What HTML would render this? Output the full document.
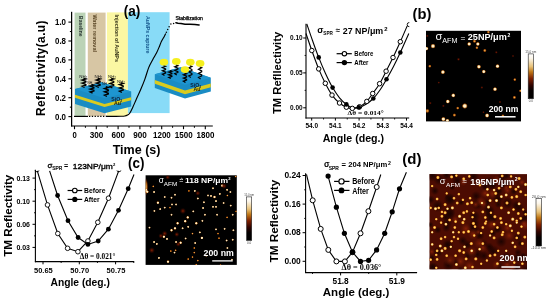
<!DOCTYPE html>
<html><head><meta charset="utf-8"><style>
html,body{margin:0;padding:0;background:#fff;width:550px;height:304px;overflow:hidden}
svg{display:block;will-change:transform;filter:blur(0.4px)}
</style></head><body>
<svg width="550" height="304" viewBox="0 0 550 304">
<defs>
<radialGradient id="dw"><stop offset="0" stop-color="#fffbea"/><stop offset="0.45" stop-color="#ffe4b0"/><stop offset="0.8" stop-color="#c86a10" stop-opacity="0.55"/><stop offset="1" stop-color="#802000" stop-opacity="0"/></radialGradient>
<radialGradient id="dm"><stop offset="0" stop-color="#fff0d8"/><stop offset="0.5" stop-color="#ecc48a" stop-opacity="0.9"/><stop offset="1" stop-color="#804000" stop-opacity="0"/></radialGradient>
<radialGradient id="do"><stop offset="0" stop-color="#ffc060"/><stop offset="0.5" stop-color="#d07010" stop-opacity="0.8"/><stop offset="1" stop-color="#801800" stop-opacity="0"/></radialGradient>
<radialGradient id="dr2"><stop offset="0" stop-color="#8e2408" stop-opacity="0.85"/><stop offset="1" stop-color="#6a1a04" stop-opacity="0"/></radialGradient>
<radialGradient id="dr"><stop offset="0" stop-color="#8a1e00"/><stop offset="1" stop-color="#400800" stop-opacity="0"/></radialGradient>
<radialGradient id="dk"><stop offset="0" stop-color="#1a0200" stop-opacity="0.95"/><stop offset="0.5" stop-color="#240400" stop-opacity="0.6"/><stop offset="1" stop-color="#2a0500" stop-opacity="0"/></radialGradient>
<radialGradient id="dy2"><stop offset="0" stop-color="#fff6d0"/><stop offset="0.45" stop-color="#f8d070"/><stop offset="0.8" stop-color="#c06010" stop-opacity="0.5"/><stop offset="1" stop-color="#902000" stop-opacity="0"/></radialGradient>
<radialGradient id="dy"><stop offset="0" stop-color="#ffe488"/><stop offset="0.5" stop-color="#f0aa34"/><stop offset="0.8" stop-color="#b04a0c" stop-opacity="0.5"/><stop offset="1" stop-color="#902000" stop-opacity="0"/></radialGradient>
<linearGradient id="cb1" x1="0" y1="0" x2="0" y2="1"><stop offset="0" stop-color="#ffffff"/><stop offset="0.1" stop-color="#fcf6ea"/><stop offset="0.28" stop-color="#e8c27a"/><stop offset="0.4" stop-color="#c07818"/><stop offset="0.55" stop-color="#7e2000"/><stop offset="0.7" stop-color="#300400"/><stop offset="0.82" stop-color="#050000"/><stop offset="1" stop-color="#000"/></linearGradient>
<clipPath id="cpc"><rect x="30" y="170.6" width="110" height="95"/></clipPath>
<clipPath id="cpb"><rect x="300" y="20" width="109.3" height="100"/></clipPath>
<clipPath id="clb"><rect x="426" y="30.8" width="95" height="90.6"/></clipPath>
<clipPath id="clc"><rect x="145.6" y="175.3" width="91.2" height="89.6"/></clipPath>
<clipPath id="cld"><rect x="429.5" y="174.1" width="97.5" height="95.2"/></clipPath>
</defs>
<rect x="74.6" y="12.6" width="10.9" height="103.6" fill="#bbd3b6"/>
<rect x="87.8" y="12.6" width="17.8" height="103.6" fill="#d7c6a4"/>
<rect x="106.9" y="12.4" width="21.0" height="103.8" fill="#fbf7a3"/>
<rect x="127.9" y="12.2" width="41.7" height="100.9" fill="#88dbf7"/>
<text transform="translate(78.58,16.1) rotate(90)" font-size="5.6" font-weight="bold" fill="#26332f" style='font-family:"Liberation Sans",sans-serif' textLength="20.3" lengthAdjust="spacingAndGlyphs">Baseline</text>
<text transform="translate(92.76,14.4) rotate(90)" font-size="5.4" font-weight="bold" fill="#5b4727" style='font-family:"Liberation Sans",sans-serif' textLength="37.6" lengthAdjust="spacingAndGlyphs">Water removal</text>
<text transform="translate(114.66,14.4) rotate(90)" font-size="5.4" font-weight="bold" fill="#3c3a1c" style='font-family:"Liberation Sans",sans-serif' textLength="47.5" lengthAdjust="spacingAndGlyphs">Injection of AuNPs</text>
<text transform="translate(145.91,16.0) rotate(90)" font-size="5.8" font-weight="bold" fill="#17598f" style='font-family:"Liberation Sans",sans-serif' textLength="37.4" lengthAdjust="spacingAndGlyphs">AuNPs capture</text>
<polygon points="75.00,89.00 101.70,82.20 131.20,91.40 131.20,106.40 104.50,113.20 75.00,104.00" fill="#1a8cc4"/><polygon points="75.00,89.00 101.70,82.20 131.20,91.40 104.50,98.20" fill="#1e95d0"/><polygon points="75.00,94.85 104.50,104.05 131.20,97.25 131.20,100.18 104.50,106.97 75.00,97.78" fill="#dacb1e"/>
<polygon points="154.80,74.30 180.60,67.30 210.80,77.80 210.80,91.40 185.00,98.40 154.80,87.90" fill="#1a8cc4"/><polygon points="154.80,74.30 180.60,67.30 210.80,77.80 185.00,84.80" fill="#1e95d0"/><polygon points="154.80,80.01 185.00,90.51 210.80,83.51 210.80,87.32 185.00,94.32 154.80,83.82" fill="#dacb1e"/>
<polyline points="83.43,78.20 85.90,78.98 82.10,80.06 85.90,81.30 85.90,82.08 82.10,83.16 85.90,84.40 85.90,85.17 82.10,86.26 84.57,87.50" fill="none" stroke="#000" stroke-width="1.35" stroke-linejoin="miter"/>
<polyline points="91.43,84.40 93.90,85.13 90.10,86.16 93.90,87.33 93.90,88.07 90.10,89.09 93.90,90.27 93.90,91.00 90.10,92.03 92.57,93.20" fill="none" stroke="#000" stroke-width="1.35" stroke-linejoin="miter"/>
<polyline points="97.63,78.20 100.10,78.98 96.30,80.06 100.10,81.30 100.10,82.08 96.30,83.16 100.10,84.40 100.10,85.17 96.30,86.26 98.77,87.50" fill="none" stroke="#000" stroke-width="1.35" stroke-linejoin="miter"/>
<polyline points="105.83,86.70 108.30,87.51 104.50,88.64 108.30,89.93 108.30,90.74 104.50,91.87 108.30,93.17 108.30,93.98 104.50,95.11 106.97,96.40" fill="none" stroke="#000" stroke-width="1.35" stroke-linejoin="miter"/>
<polyline points="111.23,78.20 113.70,79.02 109.90,80.16 113.70,81.47 113.70,82.28 109.90,83.43 113.70,84.73 113.70,85.55 109.90,86.69 112.37,88.00" fill="none" stroke="#000" stroke-width="1.35" stroke-linejoin="miter"/>
<polyline points="120.73,82.70 123.20,83.52 119.40,84.66 123.20,85.97 123.20,86.78 119.40,87.93 123.20,89.23 123.20,90.05 119.40,91.19 121.87,92.50" fill="none" stroke="#000" stroke-width="1.35" stroke-linejoin="miter"/>
<text x="79.3" y="77.6" font-size="4.4" fill="#1a1a1a" style='font-family:"Liberation Sans",sans-serif'>NH<tspan font-size="2.73" dy="1">2</tspan></text>
<text x="94.5" y="77.6" font-size="4.4" fill="#1a1a1a" style='font-family:"Liberation Sans",sans-serif'>NH<tspan font-size="2.73" dy="1">2</tspan></text>
<text x="108.1" y="77.6" font-size="4.4" fill="#1a1a1a" style='font-family:"Liberation Sans",sans-serif'>NH<tspan font-size="2.73" dy="1">2</tspan></text>
<text x="117.1" y="82.7" font-size="4.4" fill="#1a1a1a" style='font-family:"Liberation Sans",sans-serif'>NH<tspan font-size="2.73" dy="1">2</tspan></text>
<text x="87.2" y="84.0" font-size="3.6" fill="#1a1a1a" style='font-family:"Liberation Sans",sans-serif'>NH<tspan font-size="2.23" dy="1"></tspan></text>
<text x="101.9" y="84.9" font-size="3.6" fill="#1a1a1a" style='font-family:"Liberation Sans",sans-serif'>NH<tspan font-size="2.23" dy="1"></tspan></text>
<text x="111.3" y="100.9" font-size="5.2" font-weight="bold" fill="#0b1e38" style='font-family:"Liberation Sans",sans-serif'>SiO<tspan font-size="3.4" dy="0.9">2</tspan></text>
<text x="113.9" y="105.3" font-size="5.2" font-weight="bold" fill="#2b2200" style='font-family:"Liberation Sans",sans-serif'>Au</text>
<text x="190.3" y="87.1" font-size="5.2" font-weight="bold" fill="#0b1e38" style='font-family:"Liberation Sans",sans-serif'>SiO<tspan font-size="3.4" dy="0.9">2</tspan></text>
<text x="193.6" y="91.0" font-size="5.2" font-weight="bold" fill="#2b2200" style='font-family:"Liberation Sans",sans-serif'>Au</text>
<polyline points="163.52,65.50 165.60,66.33 162.40,67.50 165.60,68.83 165.60,69.67 162.40,70.83 165.60,72.17 165.60,73.00 162.40,74.17 164.48,75.50" fill="none" stroke="#000" stroke-width="1.2" stroke-linejoin="miter"/>
<polyline points="175.82,64.80 177.90,65.65 174.70,66.84 177.90,68.20 177.90,69.05 174.70,70.24 177.90,71.60 177.90,72.45 174.70,73.64 176.78,75.00" fill="none" stroke="#000" stroke-width="1.2" stroke-linejoin="miter"/>
<polyline points="189.82,65.50 191.90,66.50 188.70,67.90 191.90,69.50 191.90,70.50 188.70,71.90 191.90,73.50 191.90,74.50 188.70,75.90 190.78,77.50" fill="none" stroke="#000" stroke-width="1.2" stroke-linejoin="miter"/>
<polyline points="199.62,66.80 201.70,67.82 198.50,69.24 201.70,70.87 201.70,71.88 198.50,73.31 201.70,74.93 201.70,75.95 198.50,77.37 200.58,79.00" fill="none" stroke="#000" stroke-width="1.2" stroke-linejoin="miter"/>
<polyline points="184.52,73.00 186.60,73.79 183.40,74.90 186.60,76.17 186.60,76.96 183.40,78.07 186.60,79.33 186.60,80.13 183.40,81.23 185.48,82.50" fill="none" stroke="#000" stroke-width="1.2" stroke-linejoin="miter"/>
<polyline points="169.82,70.50 171.90,71.17 168.70,72.10 171.90,73.17 171.90,73.83 168.70,74.77 171.90,75.83 171.90,76.50 168.70,77.43 170.78,78.50" fill="none" stroke="#000" stroke-width="1.2" stroke-linejoin="miter"/>
<ellipse cx="163.9" cy="62.2" rx="4.3" ry="3.4" fill="#f5ef1e"/>
<ellipse cx="176.3" cy="61.4" rx="4.3" ry="3.4" fill="#f5ef1e"/>
<ellipse cx="190.3" cy="62.2" rx="4.3" ry="3.4" fill="#f5ef1e"/>
<ellipse cx="200.1" cy="63.4" rx="4.3" ry="3.4" fill="#f5ef1e"/>
<ellipse cx="185" cy="69.6" rx="4.3" ry="3.4" fill="#f5ef1e"/>
<line x1="74" y1="116.4" x2="88" y2="116.4" stroke="#000" stroke-width="1.2"/>
<line x1="89" y1="116.4" x2="106.5" y2="116.4" stroke="#000" stroke-width="1.3" stroke-dasharray="1.3,1.5"/>
<path d="M106.00,116.40 C107.67,116.40 113.50,116.42 116.00,116.40 C118.50,116.38 119.53,116.37 121.00,116.30 C122.47,116.23 123.72,116.22 124.80,116.00 C125.88,115.78 126.68,115.45 127.50,115.00 C128.32,114.55 128.83,114.57 129.70,113.30 C130.57,112.03 131.60,109.73 132.70,107.40 C133.80,105.07 134.95,102.32 136.30,99.30 C137.65,96.28 139.38,92.62 140.80,89.30 C142.22,85.98 143.48,83.02 144.80,79.40 C146.12,75.78 147.38,70.88 148.70,67.60 C150.02,64.32 151.38,62.17 152.70,59.70 C154.02,57.23 155.45,55.10 156.60,52.80 C157.75,50.50 158.78,47.82 159.60,45.90 C160.42,43.98 160.70,42.92 161.50,41.30 C162.30,39.68 163.68,37.52 164.40,36.20 C165.12,34.88 165.57,33.87 165.80,33.40" fill="none" stroke="#000" stroke-width="1.15"/>
<circle cx="166.4" cy="32.3" r="0.75" fill="#000"/>
<circle cx="167.7" cy="29.5" r="0.75" fill="#000"/>
<circle cx="169.1" cy="26.8" r="0.75" fill="#000"/>
<circle cx="170.9" cy="24.1" r="0.75" fill="#000"/>
<circle cx="173.6" cy="23.5" r="0.75" fill="#000"/>
<polyline points="175.90,22.70 178.00,23.20 181.00,23.60 185.00,24.20 190.00,24.30 195.00,24.50 199.10,25.00" fill="none" stroke="#000" stroke-width="1.5" stroke-linecap="round"/>
<text x="175.4" y="20.3" font-size="4.6" font-weight="normal" text-anchor="start" fill="#000" style='font-family:"Liberation Sans",sans-serif' textLength="27.4" lengthAdjust="spacingAndGlyphs" stroke="#000" stroke-width="0.25">Stabilization</text>
<line x1="71.6" y1="11.8" x2="71.6" y2="126.6" stroke="#000" stroke-width="1.25"/>
<line x1="71.3" y1="126" x2="212.8" y2="126" stroke="#000" stroke-width="1.2"/>
<line x1="68.4" y1="22.1" x2="71.6" y2="22.1" stroke="#000" stroke-width="1.1"/>
<text x="66.0" y="25.200000000000003" font-size="8.6" font-weight="bold" text-anchor="end" fill="#000" style='font-family:"Liberation Sans",sans-serif' textLength="11.0" lengthAdjust="spacingAndGlyphs" >1.0</text>
<line x1="68.4" y1="41.0" x2="71.6" y2="41.0" stroke="#000" stroke-width="1.1"/>
<text x="66.0" y="44.1" font-size="8.6" font-weight="bold" text-anchor="end" fill="#000" style='font-family:"Liberation Sans",sans-serif' textLength="11.0" lengthAdjust="spacingAndGlyphs" >0.8</text>
<line x1="68.4" y1="59.9" x2="71.6" y2="59.9" stroke="#000" stroke-width="1.1"/>
<text x="66.0" y="63.0" font-size="8.6" font-weight="bold" text-anchor="end" fill="#000" style='font-family:"Liberation Sans",sans-serif' textLength="11.0" lengthAdjust="spacingAndGlyphs" >0.6</text>
<line x1="68.4" y1="78.8" x2="71.6" y2="78.8" stroke="#000" stroke-width="1.1"/>
<text x="66.0" y="81.89999999999999" font-size="8.6" font-weight="bold" text-anchor="end" fill="#000" style='font-family:"Liberation Sans",sans-serif' textLength="11.0" lengthAdjust="spacingAndGlyphs" >0.4</text>
<line x1="68.4" y1="97.7" x2="71.6" y2="97.7" stroke="#000" stroke-width="1.1"/>
<text x="66.0" y="100.8" font-size="8.6" font-weight="bold" text-anchor="end" fill="#000" style='font-family:"Liberation Sans",sans-serif' textLength="11.0" lengthAdjust="spacingAndGlyphs" >0.2</text>
<line x1="68.4" y1="116.6" x2="71.6" y2="116.6" stroke="#000" stroke-width="1.1"/>
<text x="66.0" y="119.69999999999999" font-size="8.6" font-weight="bold" text-anchor="end" fill="#000" style='font-family:"Liberation Sans",sans-serif' textLength="11.0" lengthAdjust="spacingAndGlyphs" >0.0</text>
<line x1="69.9" y1="31.55" x2="71.6" y2="31.55" stroke="#000" stroke-width="1.0"/>
<line x1="69.9" y1="50.45" x2="71.6" y2="50.45" stroke="#000" stroke-width="1.0"/>
<line x1="69.9" y1="69.35" x2="71.6" y2="69.35" stroke="#000" stroke-width="1.0"/>
<line x1="69.9" y1="88.25" x2="71.6" y2="88.25" stroke="#000" stroke-width="1.0"/>
<line x1="69.9" y1="107.15" x2="71.6" y2="107.15" stroke="#000" stroke-width="1.0"/>
<line x1="74.5" y1="126" x2="74.5" y2="129.2" stroke="#000" stroke-width="1.1"/>
<text x="74.7" y="138.2" font-size="8.4" font-weight="bold" text-anchor="middle" fill="#000" style='font-family:"Liberation Sans",sans-serif' textLength="4.3" lengthAdjust="spacingAndGlyphs" >0</text>
<line x1="96.3" y1="126" x2="96.3" y2="129.2" stroke="#000" stroke-width="1.1"/>
<text x="96.5" y="138.2" font-size="8.4" font-weight="bold" text-anchor="middle" fill="#000" style='font-family:"Liberation Sans",sans-serif' textLength="13.6" lengthAdjust="spacingAndGlyphs" >300</text>
<line x1="118.1" y1="126" x2="118.1" y2="129.2" stroke="#000" stroke-width="1.1"/>
<text x="118.3" y="138.2" font-size="8.4" font-weight="bold" text-anchor="middle" fill="#000" style='font-family:"Liberation Sans",sans-serif' textLength="13.6" lengthAdjust="spacingAndGlyphs" >600</text>
<line x1="139.9" y1="126" x2="139.9" y2="129.2" stroke="#000" stroke-width="1.1"/>
<text x="140.1" y="138.2" font-size="8.4" font-weight="bold" text-anchor="middle" fill="#000" style='font-family:"Liberation Sans",sans-serif' textLength="13.6" lengthAdjust="spacingAndGlyphs" >900</text>
<line x1="161.7" y1="126" x2="161.7" y2="129.2" stroke="#000" stroke-width="1.1"/>
<text x="161.89999999999998" y="138.2" font-size="8.4" font-weight="bold" text-anchor="middle" fill="#000" style='font-family:"Liberation Sans",sans-serif' textLength="17.8" lengthAdjust="spacingAndGlyphs" >1200</text>
<line x1="183.5" y1="126" x2="183.5" y2="129.2" stroke="#000" stroke-width="1.1"/>
<text x="183.7" y="138.2" font-size="8.4" font-weight="bold" text-anchor="middle" fill="#000" style='font-family:"Liberation Sans",sans-serif' textLength="17.8" lengthAdjust="spacingAndGlyphs" >1500</text>
<line x1="205.3" y1="126" x2="205.3" y2="129.2" stroke="#000" stroke-width="1.1"/>
<text x="205.5" y="138.2" font-size="8.4" font-weight="bold" text-anchor="middle" fill="#000" style='font-family:"Liberation Sans",sans-serif' textLength="17.8" lengthAdjust="spacingAndGlyphs" >1800</text>
<line x1="85.4" y1="126" x2="85.4" y2="127.8" stroke="#000" stroke-width="1.0"/>
<line x1="107.2" y1="126" x2="107.2" y2="127.8" stroke="#000" stroke-width="1.0"/>
<line x1="129" y1="126" x2="129" y2="127.8" stroke="#000" stroke-width="1.0"/>
<line x1="150.8" y1="126" x2="150.8" y2="127.8" stroke="#000" stroke-width="1.0"/>
<line x1="172.6" y1="126" x2="172.6" y2="127.8" stroke="#000" stroke-width="1.0"/>
<line x1="194.4" y1="126" x2="194.4" y2="127.8" stroke="#000" stroke-width="1.0"/>
<text transform="translate(44.7,68.25) rotate(-90)" font-size="11.9" font-weight="bold" text-anchor="middle" fill="#000" style='font-family:"Liberation Sans",sans-serif' textLength="95.6" lengthAdjust="spacing">Reflectivity(a.u)</text>
<text x="112.7" y="153.6" font-size="12.7" font-weight="bold" text-anchor="start" fill="#000" style='font-family:"Liberation Sans",sans-serif' textLength="47.8" lengthAdjust="spacingAndGlyphs" >Time (s)</text>
<text x="123.7" y="15.6" font-size="15" font-weight="bold" text-anchor="start" fill="#000" style='font-family:"Liberation Sans",sans-serif' textLength="16.6" lengthAdjust="spacingAndGlyphs" >(a)</text>
<line x1="306" y1="23.8" x2="306" y2="118.6" stroke="#000" stroke-width="1.1"/>
<line x1="305.5" y1="118" x2="409.2" y2="118" stroke="#000" stroke-width="1.1"/>
<line x1="303.2" y1="38.0" x2="306" y2="38.0" stroke="#000" stroke-width="1.0"/>
<text x="302.6" y="40.4" font-size="6.8" font-weight="bold" text-anchor="end" fill="#000" style='font-family:"Liberation Sans",sans-serif' textLength="12.6" lengthAdjust="spacingAndGlyphs" >0.10</text>
<line x1="303.2" y1="72.9" x2="306" y2="72.9" stroke="#000" stroke-width="1.0"/>
<text x="302.6" y="75.30000000000001" font-size="6.8" font-weight="bold" text-anchor="end" fill="#000" style='font-family:"Liberation Sans",sans-serif' textLength="12.6" lengthAdjust="spacingAndGlyphs" >0.05</text>
<line x1="303.2" y1="107.8" x2="306" y2="107.8" stroke="#000" stroke-width="1.0"/>
<text x="302.6" y="110.2" font-size="6.8" font-weight="bold" text-anchor="end" fill="#000" style='font-family:"Liberation Sans",sans-serif' textLength="12.6" lengthAdjust="spacingAndGlyphs" >0.00</text>
<line x1="304.6" y1="55.45" x2="306" y2="55.45" stroke="#000" stroke-width="0.9"/>
<line x1="304.6" y1="90.35" x2="306" y2="90.35" stroke="#000" stroke-width="0.9"/>
<line x1="311.7" y1="118" x2="311.7" y2="120.6" stroke="#000" stroke-width="1.0"/>
<text x="311.7" y="128.1" font-size="6.8" font-weight="bold" text-anchor="middle" fill="#000" style='font-family:"Liberation Sans",sans-serif' textLength="12.6" lengthAdjust="spacingAndGlyphs" >54.0</text>
<line x1="323.55" y1="118" x2="323.55" y2="119.5" stroke="#000" stroke-width="0.9"/>
<line x1="335.4" y1="118" x2="335.4" y2="120.6" stroke="#000" stroke-width="1.0"/>
<text x="335.4" y="128.1" font-size="6.8" font-weight="bold" text-anchor="middle" fill="#000" style='font-family:"Liberation Sans",sans-serif' textLength="12.6" lengthAdjust="spacingAndGlyphs" >54.1</text>
<line x1="347.25" y1="118" x2="347.25" y2="119.5" stroke="#000" stroke-width="0.9"/>
<line x1="359.09999999999997" y1="118" x2="359.09999999999997" y2="120.6" stroke="#000" stroke-width="1.0"/>
<text x="359.09999999999997" y="128.1" font-size="6.8" font-weight="bold" text-anchor="middle" fill="#000" style='font-family:"Liberation Sans",sans-serif' textLength="12.6" lengthAdjust="spacingAndGlyphs" >54.2</text>
<line x1="370.95" y1="118" x2="370.95" y2="119.5" stroke="#000" stroke-width="0.9"/>
<line x1="382.79999999999995" y1="118" x2="382.79999999999995" y2="120.6" stroke="#000" stroke-width="1.0"/>
<text x="382.79999999999995" y="128.1" font-size="6.8" font-weight="bold" text-anchor="middle" fill="#000" style='font-family:"Liberation Sans",sans-serif' textLength="12.6" lengthAdjust="spacingAndGlyphs" >54.3</text>
<line x1="394.65" y1="118" x2="394.65" y2="119.5" stroke="#000" stroke-width="0.9"/>
<line x1="406.5" y1="118" x2="406.5" y2="120.6" stroke="#000" stroke-width="1.0"/>
<text x="406.5" y="128.1" font-size="6.8" font-weight="bold" text-anchor="middle" fill="#000" style='font-family:"Liberation Sans",sans-serif' textLength="12.6" lengthAdjust="spacingAndGlyphs" >54.4</text>
<text transform="translate(281.0,72.9) rotate(-90)" font-size="10.8" font-weight="bold" text-anchor="middle" fill="#000" style='font-family:"Liberation Sans",sans-serif' textLength="82.2" lengthAdjust="spacingAndGlyphs">TM Refllectivity</text>
<text x="322.7" y="141.5" font-size="10.6" font-weight="bold" text-anchor="start" fill="#000" style='font-family:"Liberation Sans",sans-serif' textLength="61.4" lengthAdjust="spacingAndGlyphs" >Angle (deg.)</text>
<text x="412.6" y="19.0" font-size="15" font-weight="bold" text-anchor="start" fill="#000" style='font-family:"Liberation Sans",sans-serif' textLength="18.8" lengthAdjust="spacingAndGlyphs" >(b)</text>
<path d="M306.00,33.50 C306.97,36.33 309.68,44.60 311.80,50.50 C313.92,56.40 316.45,63.43 318.70,68.90 C320.95,74.37 323.08,78.93 325.30,83.30 C327.52,87.67 329.63,91.82 332.00,95.10 C334.37,98.38 337.10,100.98 339.50,103.00 C341.90,105.02 344.27,106.30 346.40,107.20 C348.53,108.10 350.12,108.47 352.30,108.40 C354.48,108.33 357.08,107.97 359.50,106.80 C361.92,105.63 364.60,103.62 366.80,101.40 C369.00,99.18 370.57,96.45 372.70,93.50 C374.83,90.55 377.37,87.42 379.60,83.70 C381.83,79.98 383.87,75.57 386.10,71.20 C388.33,66.83 390.63,62.42 393.00,57.50 C395.37,52.58 397.93,46.97 400.30,41.70 C402.67,36.43 406.05,28.53 407.20,25.90" fill="none" stroke="#000" stroke-width="1.1"/>
<path d="M306.80,24.00 C307.75,26.75 310.52,34.93 312.50,40.50 C314.48,46.07 316.53,51.90 318.70,57.40 C320.87,62.90 323.18,68.47 325.50,73.50 C327.82,78.53 330.27,83.55 332.60,87.60 C334.93,91.65 337.20,95.00 339.50,97.80 C341.80,100.60 344.23,102.73 346.40,104.40 C348.57,106.07 350.43,107.30 352.50,107.80 C354.57,108.30 356.55,108.00 358.80,107.40 C361.05,106.80 363.58,105.68 366.00,104.20 C368.42,102.72 370.97,100.87 373.30,98.50 C375.63,96.13 377.80,93.20 380.00,90.00 C382.20,86.80 384.25,83.22 386.50,79.30 C388.75,75.38 391.20,70.97 393.50,66.50 C395.80,62.03 397.75,58.00 400.30,52.50 C402.85,47.00 407.38,36.67 408.80,33.50" fill="none" stroke="#000" stroke-width="1.1"/>
<circle cx="311.8" cy="50.5" r="2.25" fill="#fff" stroke="#000" stroke-width="1.0"/>
<circle cx="318.7" cy="68.9" r="2.25" fill="#fff" stroke="#000" stroke-width="1.0"/>
<circle cx="325.3" cy="83.3" r="2.25" fill="#fff" stroke="#000" stroke-width="1.0"/>
<circle cx="332" cy="95.1" r="2.25" fill="#fff" stroke="#000" stroke-width="1.0"/>
<circle cx="339.5" cy="103" r="2.25" fill="#fff" stroke="#000" stroke-width="1.0"/>
<circle cx="346.4" cy="107.2" r="2.25" fill="#fff" stroke="#000" stroke-width="1.0"/>
<circle cx="352.3" cy="108.4" r="2.25" fill="#fff" stroke="#000" stroke-width="1.0"/>
<circle cx="359.5" cy="106.8" r="2.25" fill="#fff" stroke="#000" stroke-width="1.0"/>
<circle cx="366.8" cy="101.4" r="2.25" fill="#fff" stroke="#000" stroke-width="1.0"/>
<circle cx="372.7" cy="93.5" r="2.25" fill="#fff" stroke="#000" stroke-width="1.0"/>
<circle cx="379.6" cy="83.7" r="2.25" fill="#fff" stroke="#000" stroke-width="1.0"/>
<circle cx="386.1" cy="71.2" r="2.25" fill="#fff" stroke="#000" stroke-width="1.0"/>
<circle cx="393" cy="57.5" r="2.25" fill="#fff" stroke="#000" stroke-width="1.0"/>
<circle cx="400.3" cy="41.7" r="2.25" fill="#fff" stroke="#000" stroke-width="1.0"/>
<g clip-path="url(#cpb)"><circle cx="409.3" cy="24.6" r="2.1" fill="none" stroke="#000" stroke-width="0.9"/></g>
<circle cx="318.7" cy="57.4" r="2.3" fill="#000"/>
<circle cx="332.6" cy="87.6" r="2.3" fill="#000"/>
<circle cx="346.4" cy="104.4" r="2.3" fill="#000"/>
<circle cx="358.8" cy="107.4" r="2.3" fill="#000"/>
<circle cx="373.3" cy="98.5" r="2.3" fill="#000"/>
<circle cx="386.5" cy="79.3" r="2.3" fill="#000"/>
<circle cx="400.3" cy="52.5" r="2.3" fill="#000"/>
<line x1="336.6" y1="53.7" x2="351.8" y2="53.7" stroke="#000" stroke-width="1.2"/>
<circle cx="344.4" cy="53.7" r="2.2" fill="#fff" stroke="#000" stroke-width="1.1"/>
<line x1="336.6" y1="62.6" x2="351.8" y2="62.6" stroke="#000" stroke-width="1.2"/>
<circle cx="344.4" cy="62.6" r="2.7" fill="#000"/>
<text x="354.3" y="56.3" font-size="7.2" font-weight="bold" text-anchor="start" fill="#000" style='font-family:"Liberation Sans",sans-serif' textLength="19.0" lengthAdjust="spacingAndGlyphs" >Before</text>
<text x="354.3" y="64.8" font-size="7.2" font-weight="bold" text-anchor="start" fill="#000" style='font-family:"Liberation Sans",sans-serif' textLength="14.2" lengthAdjust="spacingAndGlyphs" >After</text>
<text x="317.3" y="33.4" font-size="9.0" font-weight="bold" style='font-family:"Liberation Sans",sans-serif'>σ</text>
<text x="323.3" y="35.2" font-size="5.4" font-weight="bold" text-anchor="start" fill="#000" style='font-family:"Liberation Sans",sans-serif' textLength="9.6" lengthAdjust="spacingAndGlyphs" >SPR</text>
<text x="335.8" y="33.4" font-size="8.0" font-weight="bold" text-anchor="start" fill="#000" style='font-family:"Liberation Sans",sans-serif' textLength="4.2" lengthAdjust="spacingAndGlyphs" >≈</text>
<text x="342.8" y="33.6" font-size="8.8" font-weight="bold" text-anchor="start" fill="#000" style='font-family:"Liberation Sans",sans-serif' textLength="40.4" lengthAdjust="spacingAndGlyphs" >27 NP/μm</text>
<text x="384.3" y="30.5" font-size="5.4" font-weight="bold" text-anchor="start" fill="#000" style='font-family:"Liberation Sans",sans-serif' textLength="3.3" lengthAdjust="spacingAndGlyphs" >2</text>
<text x="347.6" y="115.4" font-size="7.0" font-weight="bold" text-anchor="start" fill="#000" style='font-family:"Liberation Serif",serif' textLength="36.2" lengthAdjust="spacingAndGlyphs" >Δθ = 0.014°</text>
<line x1="35.4" y1="169.7" x2="35.4" y2="262.2" stroke="#000" stroke-width="1.1"/>
<line x1="34.9" y1="261.6" x2="134.2" y2="261.6" stroke="#000" stroke-width="1.1"/>
<line x1="32.5" y1="178.1" x2="35.4" y2="178.1" stroke="#000" stroke-width="1.0"/>
<text x="30.0" y="180.7" font-size="7.3" font-weight="bold" text-anchor="end" fill="#000" style='font-family:"Liberation Sans",sans-serif' textLength="13.6" lengthAdjust="spacingAndGlyphs" >0.13</text>
<line x1="32.5" y1="201.2" x2="35.4" y2="201.2" stroke="#000" stroke-width="1.0"/>
<text x="30.0" y="203.79999999999998" font-size="7.3" font-weight="bold" text-anchor="end" fill="#000" style='font-family:"Liberation Sans",sans-serif' textLength="13.6" lengthAdjust="spacingAndGlyphs" >0.10</text>
<line x1="32.5" y1="224.3" x2="35.4" y2="224.3" stroke="#000" stroke-width="1.0"/>
<text x="30.0" y="226.9" font-size="7.3" font-weight="bold" text-anchor="end" fill="#000" style='font-family:"Liberation Sans",sans-serif' textLength="13.6" lengthAdjust="spacingAndGlyphs" >0.06</text>
<line x1="32.5" y1="247.4" x2="35.4" y2="247.4" stroke="#000" stroke-width="1.0"/>
<text x="30.0" y="250.0" font-size="7.3" font-weight="bold" text-anchor="end" fill="#000" style='font-family:"Liberation Sans",sans-serif' textLength="13.6" lengthAdjust="spacingAndGlyphs" >0.03</text>
<line x1="34.0" y1="189.65" x2="35.4" y2="189.65" stroke="#000" stroke-width="0.9"/>
<line x1="34.0" y1="212.75" x2="35.4" y2="212.75" stroke="#000" stroke-width="0.9"/>
<line x1="34.0" y1="235.85" x2="35.4" y2="235.85" stroke="#000" stroke-width="0.9"/>
<line x1="43.0" y1="261.6" x2="43.0" y2="264.3" stroke="#000" stroke-width="1.0"/>
<text x="43.4" y="272.7" font-size="7.6" font-weight="bold" text-anchor="middle" fill="#000" style='font-family:"Liberation Sans",sans-serif' textLength="18.8" lengthAdjust="spacingAndGlyphs" >50.65</text>
<line x1="79.3" y1="261.6" x2="79.3" y2="264.3" stroke="#000" stroke-width="1.0"/>
<text x="79.7" y="272.7" font-size="7.6" font-weight="bold" text-anchor="middle" fill="#000" style='font-family:"Liberation Sans",sans-serif' textLength="18.8" lengthAdjust="spacingAndGlyphs" >50.70</text>
<line x1="115.6" y1="261.6" x2="115.6" y2="264.3" stroke="#000" stroke-width="1.0"/>
<text x="116.0" y="272.7" font-size="7.6" font-weight="bold" text-anchor="middle" fill="#000" style='font-family:"Liberation Sans",sans-serif' textLength="18.8" lengthAdjust="spacingAndGlyphs" >50.75</text>
<line x1="61.15" y1="261.6" x2="61.15" y2="263.0" stroke="#000" stroke-width="0.9"/>
<line x1="97.45" y1="261.6" x2="97.45" y2="263.0" stroke="#000" stroke-width="0.9"/>
<line x1="133.75" y1="261.6" x2="133.75" y2="263.0" stroke="#000" stroke-width="0.9"/>
<text transform="translate(11.9,215.75) rotate(-90)" font-size="10.8" font-weight="bold" text-anchor="middle" fill="#000" style='font-family:"Liberation Sans",sans-serif' textLength="82.0" lengthAdjust="spacingAndGlyphs">TM Reflectivity</text>
<text x="50.5" y="285.6" font-size="10.5" font-weight="bold" text-anchor="start" fill="#000" style='font-family:"Liberation Sans",sans-serif' textLength="59.4" lengthAdjust="spacingAndGlyphs" >Angle (deg.)</text>
<text x="128.0" y="167.8" font-size="15" font-weight="bold" text-anchor="start" fill="#000" style='font-family:"Liberation Sans",sans-serif' textLength="16.4" lengthAdjust="spacingAndGlyphs" >(c)</text>
<polyline points="37.30,170.90 47.50,204.90 57.80,233.50 67.60,248.30 77.90,251.70 87.90,241.00 97.80,222.30 108.50,198.20 118.70,170.90" fill="none" stroke="#000" stroke-width="1.1"/>
<polyline points="49.60,170.90 57.60,195.50 68.00,220.70 78.10,237.50 87.90,244.40 98.20,241.00 108.40,229.20 118.50,210.30 128.20,188.70 134.00,174.50" fill="none" stroke="#000" stroke-width="1.1"/>
<circle cx="47.5" cy="204.9" r="2.3" fill="#fff" stroke="#000" stroke-width="0.9"/>
<circle cx="57.8" cy="233.5" r="2.3" fill="#fff" stroke="#000" stroke-width="0.9"/>
<circle cx="67.6" cy="248.3" r="2.3" fill="#fff" stroke="#000" stroke-width="0.9"/>
<circle cx="77.9" cy="251.7" r="2.3" fill="#fff" stroke="#000" stroke-width="0.9"/>
<circle cx="87.9" cy="241" r="2.3" fill="#fff" stroke="#000" stroke-width="0.9"/>
<circle cx="97.8" cy="222.3" r="2.3" fill="#fff" stroke="#000" stroke-width="0.9"/>
<circle cx="108.5" cy="198.2" r="2.3" fill="#fff" stroke="#000" stroke-width="0.9"/>
<g clip-path="url(#cpc)"><circle cx="37.0" cy="169.6" r="2.2" fill="none" stroke="#000" stroke-width="0.9"/><circle cx="118.9" cy="169.6" r="2.2" fill="none" stroke="#000" stroke-width="0.9"/></g>
<circle cx="57.6" cy="195.5" r="2.4" fill="#000"/>
<circle cx="68" cy="220.7" r="2.4" fill="#000"/>
<circle cx="78.1" cy="237.5" r="2.4" fill="#000"/>
<circle cx="87.9" cy="244.4" r="2.4" fill="#000"/>
<circle cx="98.2" cy="241" r="2.4" fill="#000"/>
<circle cx="108.4" cy="229.2" r="2.4" fill="#000"/>
<circle cx="118.5" cy="210.3" r="2.4" fill="#000"/>
<circle cx="128.2" cy="188.7" r="2.4" fill="#000"/>
<line x1="67.6" y1="190.5" x2="82.2" y2="190.5" stroke="#000" stroke-width="1.2"/>
<circle cx="74.8" cy="190.5" r="2.3" fill="#fff" stroke="#000" stroke-width="1.1"/>
<line x1="67.6" y1="199.4" x2="82.2" y2="199.4" stroke="#000" stroke-width="1.2"/>
<circle cx="74.8" cy="199.4" r="2.6" fill="#000"/>
<text x="84.0" y="193.0" font-size="7.6" font-weight="bold" text-anchor="start" fill="#000" style='font-family:"Liberation Sans",sans-serif' textLength="21.4" lengthAdjust="spacingAndGlyphs" >Before</text>
<text x="84.0" y="201.7" font-size="7.6" font-weight="bold" text-anchor="start" fill="#000" style='font-family:"Liberation Sans",sans-serif' textLength="15.6" lengthAdjust="spacingAndGlyphs" >After</text>
<text x="47.4" y="168.4" font-size="8.0" stroke="#000" stroke-width="0.3" style='font-family:"Liberation Sans",sans-serif'>σ<tspan font-size="4.9" dy="1.2" stroke-width="0.2">SPR</tspan></text>
<text x="64.0" y="168.4" font-size="7.4" font-weight="bold" text-anchor="start" fill="#000" style='font-family:"Liberation Sans",sans-serif' textLength="4.2" lengthAdjust="spacingAndGlyphs" >=</text>
<text x="72.8" y="168.9" font-size="7.6" stroke="#000" stroke-width="0.35" style='font-family:"Liberation Sans",sans-serif' textLength="40.0" lengthAdjust="spacingAndGlyphs">123NP/μm</text>
<text x="113.0" y="166.0" font-size="4.2" font-weight="bold" text-anchor="start" fill="#000" style='font-family:"Liberation Sans",sans-serif' >2</text>
<text x="79.8" y="258.6" font-size="8.0" font-weight="bold" text-anchor="start" fill="#000" style='font-family:"Liberation Serif",serif' textLength="35.6" lengthAdjust="spacingAndGlyphs" >Δθ = 0.021°</text>
<line x1="305.6" y1="173.2" x2="305.6" y2="273.0" stroke="#000" stroke-width="1.1"/>
<line x1="305.1" y1="272.6" x2="417.1" y2="272.6" stroke="#000" stroke-width="1.1"/>
<line x1="302.6" y1="175.5" x2="305.6" y2="175.5" stroke="#000" stroke-width="1.0"/>
<text x="300.8" y="178.0" font-size="8.6" font-weight="bold" text-anchor="end" fill="#000" style='font-family:"Liberation Sans",sans-serif' textLength="16.4" lengthAdjust="spacingAndGlyphs" >0.24</text>
<line x1="302.6" y1="204.1" x2="305.6" y2="204.1" stroke="#000" stroke-width="1.0"/>
<text x="300.8" y="206.6" font-size="8.6" font-weight="bold" text-anchor="end" fill="#000" style='font-family:"Liberation Sans",sans-serif' textLength="16.4" lengthAdjust="spacingAndGlyphs" >0.16</text>
<line x1="302.6" y1="232.7" x2="305.6" y2="232.7" stroke="#000" stroke-width="1.0"/>
<text x="300.8" y="235.2" font-size="8.6" font-weight="bold" text-anchor="end" fill="#000" style='font-family:"Liberation Sans",sans-serif' textLength="16.4" lengthAdjust="spacingAndGlyphs" >0.08</text>
<line x1="302.6" y1="261.3" x2="305.6" y2="261.3" stroke="#000" stroke-width="1.0"/>
<text x="300.8" y="263.8" font-size="8.6" font-weight="bold" text-anchor="end" fill="#000" style='font-family:"Liberation Sans",sans-serif' textLength="16.4" lengthAdjust="spacingAndGlyphs" >0.00</text>
<line x1="304.2" y1="189.8" x2="305.6" y2="189.8" stroke="#000" stroke-width="0.9"/>
<line x1="304.2" y1="218.4" x2="305.6" y2="218.4" stroke="#000" stroke-width="0.9"/>
<line x1="304.2" y1="247.0" x2="305.6" y2="247.0" stroke="#000" stroke-width="0.9"/>
<line x1="340.6" y1="272.6" x2="340.6" y2="275.4" stroke="#000" stroke-width="1.0"/>
<text x="340.6" y="283.5" font-size="8.7" font-weight="bold" text-anchor="middle" fill="#000" style='font-family:"Liberation Sans",sans-serif' textLength="16.2" lengthAdjust="spacingAndGlyphs" >51.8</text>
<line x1="396.8" y1="272.6" x2="396.8" y2="275.4" stroke="#000" stroke-width="1.0"/>
<text x="396.8" y="283.5" font-size="8.7" font-weight="bold" text-anchor="middle" fill="#000" style='font-family:"Liberation Sans",sans-serif' textLength="16.2" lengthAdjust="spacingAndGlyphs" >51.9</text>
<line x1="312.5" y1="272.6" x2="312.5" y2="274.0" stroke="#000" stroke-width="0.9"/>
<line x1="368.7" y1="272.6" x2="368.7" y2="274.0" stroke="#000" stroke-width="0.9"/>
<text transform="translate(278.0,221.1) rotate(-90)" font-size="10.8" font-weight="bold" text-anchor="middle" fill="#000" style='font-family:"Liberation Sans",sans-serif' textLength="82.8" lengthAdjust="spacingAndGlyphs">TM Reflectivity</text>
<text x="322.8" y="295.8" font-size="11.6" font-weight="bold" text-anchor="start" fill="#000" style='font-family:"Liberation Sans",sans-serif' textLength="66.6" lengthAdjust="spacingAndGlyphs" >Angle (deg.)</text>
<text x="402.2" y="164.2" font-size="15" font-weight="bold" text-anchor="start" fill="#000" style='font-family:"Liberation Sans",sans-serif' textLength="19.2" lengthAdjust="spacingAndGlyphs" >(d)</text>
<polyline points="306.50,174.30 312.70,200.30 320.70,228.90 328.30,249.90 336.40,261.40 344.90,261.40 352.50,252.20 360.50,233.30 368.40,211.20 376.70,187.00 380.80,174.50" fill="none" stroke="#000" stroke-width="1.1"/>
<polyline points="328.10,176.10 336.40,207.20 344.40,233.30 352.50,252.20 360.50,261.40 368.60,260.30 376.60,249.90 384.70,233.30 392.20,211.80 399.50,188.80 406.40,172.20" fill="none" stroke="#000" stroke-width="1.1"/>
<circle cx="312.7" cy="200.3" r="2.5" fill="#fff" stroke="#000" stroke-width="1"/>
<circle cx="320.7" cy="228.9" r="2.5" fill="#fff" stroke="#000" stroke-width="1"/>
<circle cx="328.3" cy="249.9" r="2.5" fill="#fff" stroke="#000" stroke-width="1"/>
<circle cx="336.4" cy="261.4" r="2.5" fill="#fff" stroke="#000" stroke-width="1"/>
<circle cx="344.9" cy="261.4" r="2.5" fill="#fff" stroke="#000" stroke-width="1"/>
<circle cx="352.5" cy="252.2" r="2.5" fill="#fff" stroke="#000" stroke-width="1"/>
<circle cx="360.5" cy="233.3" r="2.5" fill="#fff" stroke="#000" stroke-width="1"/>
<circle cx="368.4" cy="211.2" r="2.5" fill="#fff" stroke="#000" stroke-width="1"/>
<circle cx="376.7" cy="187" r="2.5" fill="#fff" stroke="#000" stroke-width="1"/>
<circle cx="328.1" cy="176.1" r="2.6" fill="#000"/>
<circle cx="336.4" cy="207.2" r="2.6" fill="#000"/>
<circle cx="344.4" cy="233.3" r="2.6" fill="#000"/>
<circle cx="352.5" cy="252.2" r="2.6" fill="#000"/>
<circle cx="360.5" cy="261.4" r="2.6" fill="#000"/>
<circle cx="368.6" cy="260.3" r="2.6" fill="#000"/>
<circle cx="376.6" cy="249.9" r="2.6" fill="#000"/>
<circle cx="384.7" cy="233.3" r="2.6" fill="#000"/>
<circle cx="392.2" cy="211.8" r="2.6" fill="#000"/>
<circle cx="399.5" cy="188.8" r="2.6" fill="#000"/>
<line x1="334.1" y1="181.4" x2="349.5" y2="181.4" stroke="#000" stroke-width="1.2"/>
<circle cx="341.5" cy="181.4" r="2.6" fill="#fff" stroke="#000" stroke-width="1.15"/>
<line x1="334.1" y1="190.4" x2="349.5" y2="190.4" stroke="#000" stroke-width="1.2"/>
<circle cx="341.5" cy="190.4" r="2.9" fill="#000"/>
<text x="352.2" y="183.9" font-size="8.6" font-weight="bold" text-anchor="start" fill="#000" style='font-family:"Liberation Sans",sans-serif' textLength="22.6" lengthAdjust="spacingAndGlyphs" >Before</text>
<text x="352.2" y="193.5" font-size="8.6" font-weight="bold" text-anchor="start" fill="#000" style='font-family:"Liberation Sans",sans-serif' textLength="16.6" lengthAdjust="spacingAndGlyphs" >After</text>
<text x="324.0" y="167.3" font-size="8.2" font-weight="bold" style='font-family:"Liberation Sans",sans-serif'>σ</text>
<text x="328.8" y="169.6" font-size="4.6" font-weight="normal" text-anchor="start" fill="#000" style='font-family:"Liberation Sans",sans-serif' textLength="10.0" lengthAdjust="spacingAndGlyphs" stroke="#000" stroke-width="0.2">SPR</text>
<text x="341.6" y="167.4" font-size="8.0" font-weight="bold" style='font-family:"Liberation Sans",sans-serif' textLength="45.6" lengthAdjust="spacingAndGlyphs">= 204 NP/μm</text>
<text x="388.1" y="164.6" font-size="4.8" font-weight="bold" text-anchor="start" fill="#000" style='font-family:"Liberation Sans",sans-serif' textLength="2.9" lengthAdjust="spacingAndGlyphs" >2</text>
<text x="341.6" y="270.4" font-size="7.2" font-weight="bold" text-anchor="start" fill="#000" style='font-family:"Liberation Serif",serif' textLength="39.8" lengthAdjust="spacingAndGlyphs" >Δθ = 0.036°</text>
<rect x="426" y="30.8" width="95" height="90.6" fill="#000"/>
<g clip-path="url(#clb)"><circle cx="433" cy="46.1" r="2.6" fill="url(#dw)"/><circle cx="426.5" cy="48.6" r="2.2" fill="url(#dw)"/><circle cx="469.2" cy="44" r="2.2" fill="url(#dw)"/><circle cx="442.9" cy="72.1" r="2.4" fill="url(#dw)"/><circle cx="429.8" cy="66.2" r="1.8" fill="url(#do)"/><circle cx="458.5" cy="59.3" r="1.8" fill="url(#dr)"/><circle cx="427.3" cy="35.9" r="1.6" fill="url(#dr)"/><circle cx="477.8" cy="44" r="2.2" fill="url(#dw)"/><circle cx="476.9" cy="47.7" r="1.8" fill="url(#do)"/><circle cx="484.8" cy="50.5" r="2.0" fill="url(#do)"/><circle cx="496.3" cy="52.3" r="1.6" fill="url(#dr)"/><circle cx="478.9" cy="66.7" r="2.3" fill="url(#dw)"/><circle cx="497.5" cy="66.2" r="2.3" fill="url(#dw)"/><circle cx="483.8" cy="71.6" r="2.2" fill="url(#dw)"/><circle cx="474.5" cy="41.2" r="2" fill="url(#do)"/><circle cx="488.4" cy="32.1" r="1.8" fill="url(#do)"/><circle cx="513" cy="56" r="1.4" fill="url(#dr)"/><circle cx="453.3" cy="95.4" r="2.3" fill="url(#dw)"/><circle cx="447.8" cy="101.5" r="2.3" fill="url(#dw)"/><circle cx="464.8" cy="106" r="3.0" fill="url(#dw)"/><circle cx="427.3" cy="110.9" r="2.4" fill="url(#do)"/><circle cx="443.4" cy="105.9" r="1.6" fill="url(#dr)"/><circle cx="457.7" cy="108.1" r="1.8" fill="url(#do)"/><circle cx="454.4" cy="115.1" r="2.0" fill="url(#do)"/><circle cx="443.4" cy="119.1" r="2.4" fill="url(#dw)"/><circle cx="447.4" cy="120.7" r="2.2" fill="url(#dw)"/><circle cx="430.3" cy="103.1" r="1.6" fill="url(#dr)"/><circle cx="438.8" cy="82.6" r="1.4" fill="url(#dr)"/><circle cx="514.8" cy="79.6" r="1.8" fill="url(#do)"/><circle cx="495" cy="89.2" r="2.3" fill="url(#dw)"/><circle cx="520.5" cy="90.8" r="1.8" fill="url(#do)"/><circle cx="514.4" cy="97.4" r="2.0" fill="url(#do)"/><circle cx="500" cy="102" r="1.6" fill="url(#dr)"/><circle cx="481.9" cy="87.5" r="1.6" fill="url(#dr)"/><circle cx="487.1" cy="115.5" r="2.4" fill="url(#dw)"/><circle cx="502.9" cy="115.8" r="1.8" fill="url(#do)"/><circle cx="483.5" cy="112.2" r="1.4" fill="url(#dr)"/></g>
<text x="435.4" y="39.9" font-size="11" fill="#fff" style='font-family:"Liberation Sans",sans-serif'>σ</text>
<text x="442.3" y="43.0" font-size="6.6" fill="#fff" style='font-family:"Liberation Sans",sans-serif' textLength="15.2" lengthAdjust="spacingAndGlyphs">AFM</text>
<text x="460.6" y="40.6" font-size="8.4" fill="#fff" style='font-family:"Liberation Sans",sans-serif'>=</text>
<text x="467.8" y="39.9" font-size="8.9" font-weight="bold" fill="#fff" style='font-family:"Liberation Sans",sans-serif' textLength="39.0" lengthAdjust="spacingAndGlyphs">25NP/μm</text>
<text x="507.6" y="36.6" font-size="5.0" font-weight="bold" text-anchor="start" fill="#fff" style='font-family:"Liberation Sans",sans-serif' >2</text>
<text x="488.8" y="111.8" font-size="9.0" font-weight="bold" text-anchor="start" fill="#fff" style='font-family:"Liberation Sans",sans-serif' textLength="29.6" lengthAdjust="spacingAndGlyphs" >200 nm</text>
<line x1="495" y1="116.8" x2="515.6" y2="116.8" stroke="#fff" stroke-width="1.5"/>
<rect x="528.2" y="53.9" width="5.199999999999932" height="44.800000000000004" fill="url(#cb1)" stroke="#222" stroke-width="0.6"/>
<text x="530.8" y="52.9" font-size="3.0" text-anchor="middle" fill="#444" style='font-family:"Liberation Sans",sans-serif' textLength="11.0" lengthAdjust="spacingAndGlyphs">15.0 nm</text>
<text x="530.8" y="101.9" font-size="3.0" text-anchor="middle" fill="#444" style='font-family:"Liberation Sans",sans-serif'>0.0</text>
<rect x="145.6" y="175.3" width="91.2" height="89.6" fill="#000"/>
<g clip-path="url(#clc)"><ellipse cx="146.0" cy="187" rx="2.2" ry="9" fill="url(#do)"/><ellipse cx="146.2" cy="190.5" rx="1.4" ry="3" fill="url(#dw)"/><circle cx="153.3" cy="186.4" r="1.35" fill="url(#do)"/><circle cx="147.3" cy="191.7" r="1.7" fill="url(#dw)"/><circle cx="154.1" cy="192" r="1.45" fill="url(#dm)"/><circle cx="164.7" cy="197" r="1.45" fill="url(#dm)"/><circle cx="171.5" cy="197.7" r="1.45" fill="url(#dm)"/><circle cx="175" cy="194.7" r="1.45" fill="url(#dm)"/><circle cx="157.9" cy="202.7" r="1.7" fill="url(#dw)"/><circle cx="172" cy="204.5" r="1.45" fill="url(#dm)"/><circle cx="176.1" cy="204.5" r="1.45" fill="url(#dm)"/><circle cx="164.7" cy="207.6" r="1.45" fill="url(#dm)"/><circle cx="160.2" cy="209.1" r="1.45" fill="url(#dm)"/><circle cx="154.4" cy="210.9" r="1.45" fill="url(#dm)"/><circle cx="170" cy="207.6" r="1.35" fill="url(#do)"/><circle cx="171.5" cy="214.7" r="1.45" fill="url(#dm)"/><circle cx="188.9" cy="190.9" r="1.3" fill="url(#do)"/><circle cx="187.7" cy="217.4" r="1.7" fill="url(#dw)"/><circle cx="182.9" cy="211" r="3.2" fill="url(#dr)"/><circle cx="167.7" cy="177.3" r="2.5" fill="url(#dr)"/><circle cx="222.1" cy="185.6" r="1.7" fill="url(#dw)"/><circle cx="213" cy="188.3" r="1.45" fill="url(#dm)"/><circle cx="194.8" cy="190.9" r="1.45" fill="url(#dm)"/><circle cx="227.1" cy="189.8" r="1.45" fill="url(#dm)"/><circle cx="230.4" cy="192" r="1.45" fill="url(#dm)"/><circle cx="219.8" cy="193.9" r="1.45" fill="url(#dm)"/><circle cx="208" cy="195.5" r="1.45" fill="url(#dm)"/><circle cx="211" cy="195.9" r="1.45" fill="url(#dm)"/><circle cx="214.5" cy="197" r="1.7" fill="url(#dw)"/><circle cx="197.8" cy="198.5" r="1.45" fill="url(#dm)"/><circle cx="227.4" cy="195.5" r="1.35" fill="url(#do)"/><circle cx="216" cy="201.1" r="1.45" fill="url(#dm)"/><circle cx="203.9" cy="202.3" r="1.45" fill="url(#dm)"/><circle cx="223.6" cy="203" r="1.45" fill="url(#dm)"/><circle cx="230.7" cy="205.6" r="1.45" fill="url(#dm)"/><circle cx="213" cy="206.8" r="1.45" fill="url(#dm)"/><circle cx="216" cy="206.8" r="1.45" fill="url(#dm)"/><circle cx="203.1" cy="208" r="1.45" fill="url(#dm)"/><circle cx="193.3" cy="211.4" r="1.45" fill="url(#dm)"/><circle cx="236.2" cy="211.4" r="1.35" fill="url(#do)"/><circle cx="204.9" cy="214.7" r="1.45" fill="url(#dm)"/><circle cx="217.1" cy="214.7" r="1.45" fill="url(#dm)"/><circle cx="227.1" cy="217.4" r="1.35" fill="url(#do)"/><circle cx="232.7" cy="214.7" r="1.45" fill="url(#dm)"/><circle cx="235.7" cy="176.5" r="1.35" fill="url(#do)"/><circle cx="224" cy="186" r="3" fill="url(#dr)"/><circle cx="197.8" cy="193.2" r="2.6" fill="url(#dr)"/><circle cx="185.2" cy="221.2" r="1.7" fill="url(#dw)"/><circle cx="177.6" cy="223.3" r="1.7" fill="url(#dw)"/><circle cx="188.2" cy="226.8" r="1.45" fill="url(#dm)"/><circle cx="149.5" cy="227.6" r="1.45" fill="url(#dm)"/><circle cx="171.5" cy="230.3" r="1.7" fill="url(#dw)"/><circle cx="175" cy="228.3" r="1.7" fill="url(#dw)"/><circle cx="182.6" cy="228.3" r="1.45" fill="url(#dm)"/><circle cx="163.9" cy="236.7" r="1.7" fill="url(#dw)"/><circle cx="167" cy="238.9" r="1.45" fill="url(#dm)"/><circle cx="185.6" cy="238.5" r="1.45" fill="url(#dm)"/><circle cx="154.1" cy="242" r="1.45" fill="url(#dm)"/><circle cx="156.8" cy="243.9" r="1.45" fill="url(#dm)"/><circle cx="176.1" cy="242" r="1.45" fill="url(#dm)"/><circle cx="180.6" cy="242.7" r="1.7" fill="url(#dw)"/><circle cx="170.8" cy="251.1" r="1.35" fill="url(#do)"/><circle cx="174.5" cy="252.6" r="1.45" fill="url(#dm)"/><circle cx="175.6" cy="250.3" r="1.35" fill="url(#do)"/><circle cx="158.9" cy="257.9" r="1.45" fill="url(#dm)"/><circle cx="168" cy="261.7" r="1.7" fill="url(#dw)"/><circle cx="188.2" cy="259.1" r="1.35" fill="url(#do)"/><circle cx="164.7" cy="233.6" r="3" fill="url(#dr)"/><circle cx="160.9" cy="235.9" r="2.6" fill="url(#dr)"/><circle cx="151.8" cy="250.3" r="3.2" fill="url(#dr)"/><circle cx="176.8" cy="234.4" r="2.6" fill="url(#dr)"/><circle cx="178.3" cy="244.2" r="2.6" fill="url(#dr)"/><circle cx="196.3" cy="223.3" r="1.7" fill="url(#dw)"/><circle cx="202.4" cy="220.8" r="1.45" fill="url(#dm)"/><circle cx="199.8" cy="232.4" r="1.45" fill="url(#dm)"/><circle cx="192.5" cy="233.6" r="1.35" fill="url(#do)"/><circle cx="216" cy="229.4" r="1.45" fill="url(#dm)"/><circle cx="224.6" cy="228.8" r="1.45" fill="url(#dm)"/><circle cx="233.4" cy="230.3" r="1.45" fill="url(#dm)"/><circle cx="218" cy="233.6" r="1.35" fill="url(#do)"/><circle cx="219" cy="238.2" r="1.35" fill="url(#do)"/><circle cx="201.9" cy="237.9" r="1.7" fill="url(#dw)"/><circle cx="226.6" cy="240.5" r="1.45" fill="url(#dm)"/><circle cx="232.7" cy="239.7" r="1.45" fill="url(#dm)"/><circle cx="195.2" cy="243" r="1.45" fill="url(#dm)"/><circle cx="194.3" cy="248" r="1.35" fill="url(#do)"/><circle cx="227.4" cy="248" r="1.45" fill="url(#dm)"/><circle cx="194.3" cy="252.6" r="1.35" fill="url(#do)"/><circle cx="206.2" cy="255.6" r="1.45" fill="url(#dm)"/><circle cx="197.8" cy="260.6" r="1.35" fill="url(#do)"/><circle cx="192.5" cy="257.1" r="1.35" fill="url(#do)"/><circle cx="231.9" cy="259.7" r="1.45" fill="url(#dm)"/><circle cx="196.3" cy="264.7" r="1.35" fill="url(#do)"/><circle cx="220.5" cy="265.2" r="1.35" fill="url(#do)"/></g>
<text x="158.8" y="182.5" font-size="8.2" fill="#fff" style='font-family:"Liberation Sans",sans-serif'>σ</text>
<text x="163.8" y="185.6" font-size="5.4" fill="#fff" style='font-family:"Liberation Sans",sans-serif' textLength="13.4" lengthAdjust="spacingAndGlyphs">AFM</text>
<text x="179.3" y="183.0" font-size="7.0" fill="#fff" style='font-family:"Liberation Sans",sans-serif'>=</text>
<path d="M180.2,179.6 L181.6,178.3 L183.0,179.6" fill="none" stroke="#fff" stroke-width="0.7"/>
<text x="184.9" y="183.2" font-size="7.4" font-weight="bold" fill="#fff" style='font-family:"Liberation Sans",sans-serif' textLength="43.2" lengthAdjust="spacingAndGlyphs">118 NP/μm</text>
<text x="228.3" y="180.3" font-size="4.2" font-weight="bold" text-anchor="start" fill="#fff" style='font-family:"Liberation Sans",sans-serif' >2</text>
<text x="203.6" y="256.4" font-size="8.8" font-weight="bold" text-anchor="start" fill="#fff" style='font-family:"Liberation Sans",sans-serif' textLength="30.2" lengthAdjust="spacingAndGlyphs" >200 nm</text>
<line x1="212.2" y1="260.9" x2="232.7" y2="260.9" stroke="#fff" stroke-width="1.3"/>
<rect x="246.6" y="196.9" width="5.099999999999994" height="43.5" fill="url(#cb1)" stroke="#222" stroke-width="0.6"/>
<text x="249.14999999999998" y="195.9" font-size="3.0" text-anchor="middle" fill="#444" style='font-family:"Liberation Sans",sans-serif' textLength="10.0" lengthAdjust="spacingAndGlyphs">15.0 nm</text>
<text x="249.14999999999998" y="243.6" font-size="3.0" text-anchor="middle" fill="#444" style='font-family:"Liberation Sans",sans-serif'>0.0</text>
<rect x="429.5" y="174.1" width="97.5" height="95.2" fill="#4c0c02"/>
<g clip-path="url(#cld)"><circle cx="473.3" cy="227.7" r="6.2" fill="url(#dk)"/><circle cx="474.6" cy="222.8" r="5.1" fill="url(#dk)"/><circle cx="447.1" cy="223.1" r="5.2" fill="url(#dk)"/><circle cx="506.7" cy="183.0" r="4.1" fill="url(#dk)"/><circle cx="437.9" cy="251.7" r="5.4" fill="url(#dk)"/><circle cx="433.1" cy="268.3" r="6.4" fill="url(#dk)"/><circle cx="493.1" cy="233.1" r="3.6" fill="url(#dk)"/><circle cx="430.5" cy="224.7" r="3.2" fill="url(#dk)"/><circle cx="447.6" cy="197.2" r="3.1" fill="url(#dk)"/><circle cx="474.5" cy="216.3" r="5.9" fill="url(#dk)"/><circle cx="479.9" cy="235.5" r="4.7" fill="url(#dk)"/><circle cx="493.9" cy="217.9" r="4.0" fill="url(#dk)"/><circle cx="526.8" cy="269.6" r="5.9" fill="url(#dk)"/><circle cx="498.4" cy="204.3" r="3.8" fill="url(#dk)"/><circle cx="457.3" cy="180.7" r="5.7" fill="url(#dk)"/><circle cx="468.2" cy="255.3" r="4.4" fill="url(#dk)"/><circle cx="522.9" cy="255.3" r="3.0" fill="url(#dk)"/><circle cx="449.6" cy="261.4" r="4.6" fill="url(#dk)"/><circle cx="525.1" cy="212.2" r="3.3" fill="url(#dk)"/><circle cx="490.7" cy="248.7" r="3.9" fill="url(#dk)"/><circle cx="437.5" cy="205.9" r="6.4" fill="url(#dk)"/><circle cx="503.3" cy="185.3" r="3.9" fill="url(#dk)"/><circle cx="438.9" cy="179.7" r="5.8" fill="url(#dk)"/><circle cx="446.4" cy="227.7" r="4.6" fill="url(#dk)"/><circle cx="447.7" cy="244.3" r="3.5" fill="url(#dk)"/><circle cx="492.1" cy="185.2" r="4.5" fill="url(#dk)"/><circle cx="449.9" cy="199.9" r="6.4" fill="url(#dk)"/><circle cx="507.7" cy="203.2" r="6.1" fill="url(#dk)"/><circle cx="449.6" cy="211.9" r="6.0" fill="url(#dk)"/><circle cx="491.9" cy="183.6" r="6.5" fill="url(#dk)"/><circle cx="449.9" cy="198.8" r="5.7" fill="url(#dk)"/><circle cx="461.2" cy="202.4" r="3.3" fill="url(#dk)"/><circle cx="437.8" cy="229.9" r="3.9" fill="url(#dk)"/><circle cx="487.9" cy="209.7" r="4.6" fill="url(#dk)"/><circle cx="523.0" cy="220.4" r="5.0" fill="url(#dk)"/><circle cx="513.9" cy="191.6" r="3.5" fill="url(#dk)"/><circle cx="518.0" cy="252.5" r="3.9" fill="url(#dk)"/><circle cx="447.6" cy="245.0" r="6.3" fill="url(#dk)"/><circle cx="448.3" cy="265.2" r="6.1" fill="url(#dk)"/><circle cx="488.1" cy="214.5" r="3.4" fill="url(#dk)"/><circle cx="432.8" cy="266.4" r="3.8" fill="url(#dk)"/><circle cx="498.0" cy="198.7" r="5.9" fill="url(#dk)"/><circle cx="487.5" cy="202.2" r="3.6" fill="url(#dk)"/><circle cx="499.6" cy="180.6" r="3.8" fill="url(#dk)"/><circle cx="483.8" cy="255.8" r="5.2" fill="url(#dk)"/><circle cx="456.5" cy="262.1" r="3.7" fill="url(#dk)"/><circle cx="430.6" cy="199.8" r="4.6" fill="url(#dk)"/><circle cx="434.9" cy="190.9" r="4.3" fill="url(#dk)"/><circle cx="485.1" cy="186.6" r="4.3" fill="url(#dk)"/><circle cx="516.3" cy="268.1" r="5.3" fill="url(#dk)"/><circle cx="496.7" cy="230.1" r="3.5" fill="url(#dk)"/><circle cx="432.4" cy="175.7" r="6.2" fill="url(#dk)"/><circle cx="497.7" cy="266.4" r="3.1" fill="url(#dk)"/><circle cx="491.3" cy="220.3" r="5.6" fill="url(#dk)"/><circle cx="460.3" cy="269.9" r="3.3" fill="url(#dk)"/><circle cx="482.5" cy="244.8" r="6.2" fill="url(#dk)"/><circle cx="501.2" cy="241.6" r="5.8" fill="url(#dk)"/><circle cx="518.7" cy="207.8" r="5.4" fill="url(#dk)"/><circle cx="517.3" cy="257.6" r="4.5" fill="url(#dk)"/><circle cx="506.5" cy="256.9" r="5.0" fill="url(#dk)"/><circle cx="490.2" cy="210.7" r="5.0" fill="url(#dk)"/><circle cx="488.7" cy="181.7" r="5.2" fill="url(#dk)"/><circle cx="526.3" cy="258.5" r="5.5" fill="url(#dk)"/><circle cx="467.1" cy="244.6" r="5.0" fill="url(#dk)"/><circle cx="472.2" cy="254.5" r="3.3" fill="url(#dk)"/><circle cx="502.5" cy="176.9" r="5.1" fill="url(#dk)"/><circle cx="476.1" cy="196.1" r="5.4" fill="url(#dk)"/><circle cx="477.7" cy="233.0" r="6.2" fill="url(#dk)"/><circle cx="454.1" cy="175.1" r="4.1" fill="url(#dk)"/><circle cx="495.5" cy="193.4" r="3.6" fill="url(#dk)"/><circle cx="517.8" cy="237.4" r="4.5" fill="url(#dk)"/><circle cx="516.4" cy="205.4" r="5.3" fill="url(#dk)"/><circle cx="448.5" cy="215.4" r="5.8" fill="url(#dk)"/><circle cx="518.6" cy="258.5" r="4.3" fill="url(#dk)"/><circle cx="486.1" cy="204.4" r="3.5" fill="url(#dk)"/><circle cx="477.7" cy="254.4" r="6.0" fill="url(#dk)"/><circle cx="498.7" cy="265.2" r="4.0" fill="url(#dk)"/><circle cx="445.6" cy="217.3" r="4.0" fill="url(#dk)"/><circle cx="450.0" cy="213.7" r="5.2" fill="url(#dk)"/><circle cx="477.4" cy="204.3" r="5.9" fill="url(#dk)"/><circle cx="525.2" cy="217.4" r="3.3" fill="url(#dk)"/><circle cx="432.1" cy="257.8" r="3.1" fill="url(#dk)"/><circle cx="498.4" cy="228.8" r="4.1" fill="url(#dk)"/><circle cx="506.6" cy="175.8" r="3.5" fill="url(#dk)"/><circle cx="473.6" cy="176.4" r="5.9" fill="url(#dk)"/><circle cx="452.3" cy="187.5" r="3.2" fill="url(#dk)"/><circle cx="490.7" cy="216.9" r="5.2" fill="url(#dk)"/><circle cx="493.2" cy="251.5" r="6.4" fill="url(#dk)"/><circle cx="496.1" cy="193.1" r="4.7" fill="url(#dk)"/><circle cx="446.5" cy="175.0" r="4.7" fill="url(#dk)"/><circle cx="499.0" cy="191.2" r="4.0" fill="url(#dk)"/><circle cx="462.9" cy="240.9" r="4.8" fill="url(#dk)"/><circle cx="489.2" cy="246.6" r="4.4" fill="url(#dk)"/><circle cx="506.6" cy="261.0" r="3.3" fill="url(#dk)"/><circle cx="520.4" cy="243.3" r="3.5" fill="url(#dk)"/><circle cx="473.4" cy="234.1" r="5.7" fill="url(#dr2)"/><circle cx="465.9" cy="228.6" r="5.6" fill="url(#dr2)"/><circle cx="507.1" cy="264.6" r="4.4" fill="url(#dr2)"/><circle cx="492.8" cy="193.7" r="5.2" fill="url(#dr2)"/><circle cx="509.2" cy="235.6" r="5.2" fill="url(#dr2)"/><circle cx="449.9" cy="260.4" r="5.9" fill="url(#dr2)"/><circle cx="524.8" cy="225.5" r="5.4" fill="url(#dr2)"/><circle cx="460.4" cy="261.4" r="5.6" fill="url(#dr2)"/><circle cx="463.2" cy="181.9" r="4.3" fill="url(#dr2)"/><circle cx="482.9" cy="247.8" r="4.5" fill="url(#dr2)"/><circle cx="431.8" cy="251.7" r="3.2" fill="url(#dr2)"/><circle cx="507.4" cy="190.6" r="4.0" fill="url(#dr2)"/><circle cx="506.2" cy="187.5" r="3.4" fill="url(#dr2)"/><circle cx="479.6" cy="243.5" r="5.5" fill="url(#dr2)"/><circle cx="496.6" cy="264.8" r="4.5" fill="url(#dr2)"/><circle cx="522.0" cy="182.3" r="3.7" fill="url(#dr2)"/><circle cx="480.6" cy="201.9" r="5.2" fill="url(#dr2)"/><circle cx="491.6" cy="224.2" r="5.5" fill="url(#dr2)"/><circle cx="483.9" cy="203.9" r="4.1" fill="url(#dr2)"/><circle cx="511.8" cy="260.5" r="3.6" fill="url(#dr2)"/><circle cx="512.4" cy="267.0" r="4.6" fill="url(#dr2)"/><circle cx="485.2" cy="193.3" r="4.6" fill="url(#dr2)"/><circle cx="478.3" cy="232.1" r="3.1" fill="url(#dr2)"/><circle cx="524.0" cy="223.5" r="4.2" fill="url(#dr2)"/><circle cx="507.5" cy="228.0" r="4.5" fill="url(#dr2)"/><circle cx="496.7" cy="180.3" r="4.6" fill="url(#dr2)"/><circle cx="469.5" cy="265.9" r="5.8" fill="url(#dr2)"/><circle cx="455.4" cy="219.4" r="3.4" fill="url(#dr2)"/><circle cx="471.5" cy="252.3" r="5.7" fill="url(#dr2)"/><circle cx="475.7" cy="204.5" r="3.6" fill="url(#dr2)"/><circle cx="437.9" cy="177.5" r="2.16" fill="url(#dy)"/><circle cx="451.6" cy="176.9" r="2.09" fill="url(#dy)"/><circle cx="456.4" cy="175.6" r="1.8" fill="url(#dy)"/><circle cx="463.7" cy="178.8" r="2.04" fill="url(#dy)"/><circle cx="469.3" cy="176.4" r="1.88" fill="url(#dy)"/><circle cx="432.2" cy="186.1" r="1.75" fill="url(#dy)"/><circle cx="446.7" cy="193.4" r="1.76" fill="url(#dy)"/><circle cx="458.8" cy="194.2" r="1.83" fill="url(#dy)"/><circle cx="454" cy="198.2" r="1.97" fill="url(#dy)"/><circle cx="470.1" cy="198.2" r="1.89" fill="url(#dy)"/><circle cx="437.1" cy="199" r="1.96" fill="url(#dy)"/><circle cx="462.9" cy="199.8" r="1.8" fill="url(#dy)"/><circle cx="457.2" cy="203" r="2.02" fill="url(#dy)"/><circle cx="467.4" cy="203.8" r="2.13" fill="url(#dy)"/><circle cx="445.1" cy="204.6" r="2.13" fill="url(#dy)"/><circle cx="471.7" cy="202.7" r="2.07" fill="url(#dy)"/><circle cx="435.5" cy="208.7" r="2.15" fill="url(#dy2)"/><circle cx="438.7" cy="207.9" r="1.86" fill="url(#dy)"/><circle cx="447.5" cy="208.7" r="1.81" fill="url(#dy2)"/><circle cx="452.4" cy="207.9" r="2.14" fill="url(#dy2)"/><circle cx="430.6" cy="207.9" r="1.82" fill="url(#dy)"/><circle cx="441.9" cy="211.9" r="1.83" fill="url(#dy)"/><circle cx="445.1" cy="212.7" r="2.12" fill="url(#dy)"/><circle cx="463.7" cy="212.7" r="2.09" fill="url(#dy)"/><circle cx="466.9" cy="211.4" r="1.9" fill="url(#dy)"/><circle cx="473.4" cy="212.7" r="1.71" fill="url(#dy)"/><circle cx="441.9" cy="216.3" r="2.04" fill="url(#dy)"/><circle cx="459.6" cy="216.3" r="2.18" fill="url(#dy2)"/><circle cx="449.6" cy="220" r="1.95" fill="url(#dy)"/><circle cx="464.2" cy="219.2" r="1.95" fill="url(#dy2)"/><circle cx="472.5" cy="217.2" r="1.79" fill="url(#dy)"/><circle cx="436.3" cy="219.2" r="1.75" fill="url(#dy)"/><circle cx="455.6" cy="221.6" r="1.98" fill="url(#dy)"/><circle cx="502.2" cy="175.9" r="1.98" fill="url(#dy)"/><circle cx="511.1" cy="176.4" r="1.79" fill="url(#dy)"/><circle cx="519.1" cy="178.5" r="2.12" fill="url(#dy)"/><circle cx="525.6" cy="184.5" r="2.16" fill="url(#dy2)"/><circle cx="479.9" cy="185.3" r="1.73" fill="url(#dy)"/><circle cx="487.4" cy="189.3" r="1.93" fill="url(#dy2)"/><circle cx="494.1" cy="190.1" r="1.86" fill="url(#dy2)"/><circle cx="499" cy="188.2" r="1.96" fill="url(#dy)"/><circle cx="510.3" cy="186.9" r="2.0" fill="url(#dy)"/><circle cx="515.9" cy="189.3" r="2.05" fill="url(#dy)"/><circle cx="518.3" cy="186.9" r="1.79" fill="url(#dy2)"/><circle cx="520.7" cy="191.7" r="2.07" fill="url(#dy)"/><circle cx="525.6" cy="195" r="1.8" fill="url(#dy)"/><circle cx="487.7" cy="195" r="1.96" fill="url(#dy)"/><circle cx="495.7" cy="193.4" r="2.15" fill="url(#dy)"/><circle cx="506.2" cy="195" r="2.05" fill="url(#dy2)"/><circle cx="501.4" cy="196.6" r="2.01" fill="url(#dy2)"/><circle cx="511.9" cy="197.4" r="2.0" fill="url(#dy)"/><circle cx="516.7" cy="196.6" r="2.19" fill="url(#dy)"/><circle cx="482" cy="203" r="1.83" fill="url(#dy2)"/><circle cx="490.1" cy="200.6" r="2.07" fill="url(#dy2)"/><circle cx="496.5" cy="200.6" r="2.11" fill="url(#dy2)"/><circle cx="507" cy="203" r="2.15" fill="url(#dy)"/><circle cx="519.1" cy="203.8" r="2.05" fill="url(#dy2)"/><circle cx="488.5" cy="207.1" r="2.08" fill="url(#dy2)"/><circle cx="501.4" cy="207.9" r="2.06" fill="url(#dy)"/><circle cx="513.5" cy="209.5" r="1.87" fill="url(#dy)"/><circle cx="523.2" cy="209.5" r="1.71" fill="url(#dy)"/><circle cx="482.8" cy="211.9" r="2.02" fill="url(#dy)"/><circle cx="490.9" cy="212.7" r="1.82" fill="url(#dy)"/><circle cx="508.6" cy="212.7" r="2.03" fill="url(#dy2)"/><circle cx="518.3" cy="213.5" r="2.03" fill="url(#dy)"/><circle cx="485.3" cy="217.5" r="1.97" fill="url(#dy)"/><circle cx="494.9" cy="216.7" r="2.2" fill="url(#dy)"/><circle cx="500.6" cy="218.4" r="2.05" fill="url(#dy)"/><circle cx="512.7" cy="219.2" r="2.19" fill="url(#dy2)"/><circle cx="520.7" cy="218.4" r="2.01" fill="url(#dy)"/><circle cx="525.6" cy="214.3" r="1.83" fill="url(#dy)"/><circle cx="486.1" cy="221.6" r="1.73" fill="url(#dy)"/><circle cx="516.7" cy="220.8" r="1.89" fill="url(#dy)"/><circle cx="441.1" cy="222.6" r="1.83" fill="url(#dy)"/><circle cx="445.9" cy="224.2" r="1.98" fill="url(#dy2)"/><circle cx="462.9" cy="222.6" r="2.18" fill="url(#dy)"/><circle cx="473.4" cy="223.4" r="2.2" fill="url(#dy)"/><circle cx="434.6" cy="227.5" r="2.1" fill="url(#dy)"/><circle cx="454.8" cy="227.5" r="2.0" fill="url(#dy)"/><circle cx="432.2" cy="232.3" r="1.72" fill="url(#dy2)"/><circle cx="453.2" cy="232.3" r="1.78" fill="url(#dy2)"/><circle cx="458.8" cy="232.3" r="1.78" fill="url(#dy)"/><circle cx="463.7" cy="232.3" r="2.01" fill="url(#dy)"/><circle cx="468.5" cy="231.5" r="2.17" fill="url(#dy)"/><circle cx="475" cy="226.6" r="1.96" fill="url(#dy)"/><circle cx="474.2" cy="235.5" r="1.88" fill="url(#dy)"/><circle cx="441.1" cy="238.7" r="2.03" fill="url(#dy)"/><circle cx="445.1" cy="237.1" r="1.84" fill="url(#dy)"/><circle cx="454" cy="237.1" r="1.85" fill="url(#dy)"/><circle cx="458" cy="238.7" r="1.82" fill="url(#dy)"/><circle cx="451.6" cy="241.2" r="1.78" fill="url(#dy)"/><circle cx="432.2" cy="244.4" r="1.89" fill="url(#dy2)"/><circle cx="440.3" cy="246" r="2.07" fill="url(#dy2)"/><circle cx="445.1" cy="248.4" r="2.19" fill="url(#dy)"/><circle cx="450.8" cy="246.8" r="1.74" fill="url(#dy2)"/><circle cx="464.5" cy="246.8" r="1.91" fill="url(#dy2)"/><circle cx="471.3" cy="243.6" r="2.19" fill="url(#dy)"/><circle cx="437.1" cy="250.8" r="1.96" fill="url(#dy)"/><circle cx="441.9" cy="250.8" r="2.06" fill="url(#dy2)"/><circle cx="459.6" cy="250.8" r="2.19" fill="url(#dy)"/><circle cx="471.7" cy="250.8" r="2.0" fill="url(#dy2)"/><circle cx="463.7" cy="252.5" r="2.01" fill="url(#dy)"/><circle cx="436.3" cy="254.9" r="1.8" fill="url(#dy)"/><circle cx="446.7" cy="255.7" r="1.96" fill="url(#dy)"/><circle cx="455.6" cy="255.7" r="1.92" fill="url(#dy)"/><circle cx="430.6" cy="259.7" r="1.93" fill="url(#dy)"/><circle cx="437.1" cy="259.4" r="1.99" fill="url(#dy)"/><circle cx="466.1" cy="258.9" r="2.09" fill="url(#dy)"/><circle cx="475.8" cy="258.9" r="2.2" fill="url(#dy)"/><circle cx="456.4" cy="264.5" r="2.07" fill="url(#dy2)"/><circle cx="436.3" cy="267.8" r="1.76" fill="url(#dy)"/><circle cx="465.3" cy="267.8" r="2.09" fill="url(#dy2)"/><circle cx="472.5" cy="267" r="1.88" fill="url(#dy)"/><circle cx="485.3" cy="223.4" r="2.04" fill="url(#dy)"/><circle cx="494.1" cy="224.2" r="2.0" fill="url(#dy)"/><circle cx="501.4" cy="222.6" r="2.08" fill="url(#dy)"/><circle cx="506.2" cy="224.2" r="1.82" fill="url(#dy)"/><circle cx="510.3" cy="225.8" r="2.16" fill="url(#dy2)"/><circle cx="516.7" cy="222.6" r="1.72" fill="url(#dy2)"/><circle cx="521.5" cy="226.6" r="1.84" fill="url(#dy)"/><circle cx="482.8" cy="227.5" r="2.01" fill="url(#dy)"/><circle cx="497.4" cy="227.5" r="1.97" fill="url(#dy)"/><circle cx="481.2" cy="233.1" r="1.74" fill="url(#dy)"/><circle cx="491.7" cy="231.5" r="1.98" fill="url(#dy)"/><circle cx="503" cy="232.3" r="1.89" fill="url(#dy)"/><circle cx="511.9" cy="230.7" r="1.81" fill="url(#dy)"/><circle cx="518.3" cy="233.1" r="2.07" fill="url(#dy)"/><circle cx="490.1" cy="235.5" r="1.74" fill="url(#dy2)"/><circle cx="502.2" cy="234.7" r="2.1" fill="url(#dy)"/><circle cx="494.1" cy="237.9" r="2.08" fill="url(#dy)"/><circle cx="516.7" cy="237.9" r="1.91" fill="url(#dy)"/><circle cx="524.8" cy="237.1" r="2.1" fill="url(#dy)"/><circle cx="482.8" cy="243.6" r="2.03" fill="url(#dy)"/><circle cx="512.7" cy="242.8" r="1.86" fill="url(#dy2)"/><circle cx="522.4" cy="243.6" r="2.07" fill="url(#dy)"/><circle cx="479.6" cy="249.2" r="1.91" fill="url(#dy2)"/><circle cx="498.2" cy="250.8" r="1.75" fill="url(#dy)"/><circle cx="506.2" cy="250.8" r="1.74" fill="url(#dy2)"/><circle cx="515.1" cy="246.8" r="1.98" fill="url(#dy)"/><circle cx="490.1" cy="255.7" r="2.04" fill="url(#dy)"/><circle cx="494.9" cy="254.9" r="2.09" fill="url(#dy)"/><circle cx="486.9" cy="260.5" r="1.81" fill="url(#dy)"/><circle cx="481.2" cy="263.7" r="1.74" fill="url(#dy)"/><circle cx="497.4" cy="263.7" r="2.06" fill="url(#dy)"/><circle cx="514.3" cy="262.6" r="1.84" fill="url(#dy)"/><circle cx="522.4" cy="263.7" r="1.88" fill="url(#dy)"/></g>
<g clip-path="url(#cld)">
<text x="439.8" y="184.4" font-size="9.2" fill="#fff" style='font-family:"Liberation Sans",sans-serif'>σ</text>
<text x="446.0" y="187.2" font-size="6.0" fill="#fff" style='font-family:"Liberation Sans",sans-serif' textLength="14.0" lengthAdjust="spacingAndGlyphs">AFM</text>
<text x="462.6" y="184.0" font-size="7.6" fill="#fff" style='font-family:"Liberation Sans",sans-serif'>≈</text>
<text x="470.3" y="184.8" font-size="8.4" font-weight="bold" fill="#fff" style='font-family:"Liberation Sans",sans-serif' textLength="44.2" lengthAdjust="spacingAndGlyphs">195NP/μm</text>
<text x="514.7" y="181.3" font-size="5.0" font-weight="bold" text-anchor="start" fill="#fff" style='font-family:"Liberation Sans",sans-serif' >2</text>
<text x="499.4" y="261.4" font-size="9.2" font-weight="bold" text-anchor="start" fill="#fff" style='font-family:"Liberation Sans",sans-serif' textLength="31.0" lengthAdjust="spacingAndGlyphs" >200 nm</text>
</g>
<line x1="501.4" y1="267.0" x2="520.2" y2="267.0" stroke="#fff" stroke-width="1.5"/>
<rect x="536.0" y="198.6" width="5.600000000000023" height="47.400000000000006" fill="url(#cb1)" stroke="#222" stroke-width="0.6"/>
<text x="538.8" y="197.6" font-size="3.4" text-anchor="middle" fill="#444" style='font-family:"Liberation Sans",sans-serif' textLength="14.0" lengthAdjust="spacingAndGlyphs">20.0 nm</text>
<text x="538.8" y="249.2" font-size="3.4" text-anchor="middle" fill="#444" style='font-family:"Liberation Sans",sans-serif' textLength="15.0" lengthAdjust="spacingAndGlyphs">-10.0 nm</text>
</svg>
</body></html>
